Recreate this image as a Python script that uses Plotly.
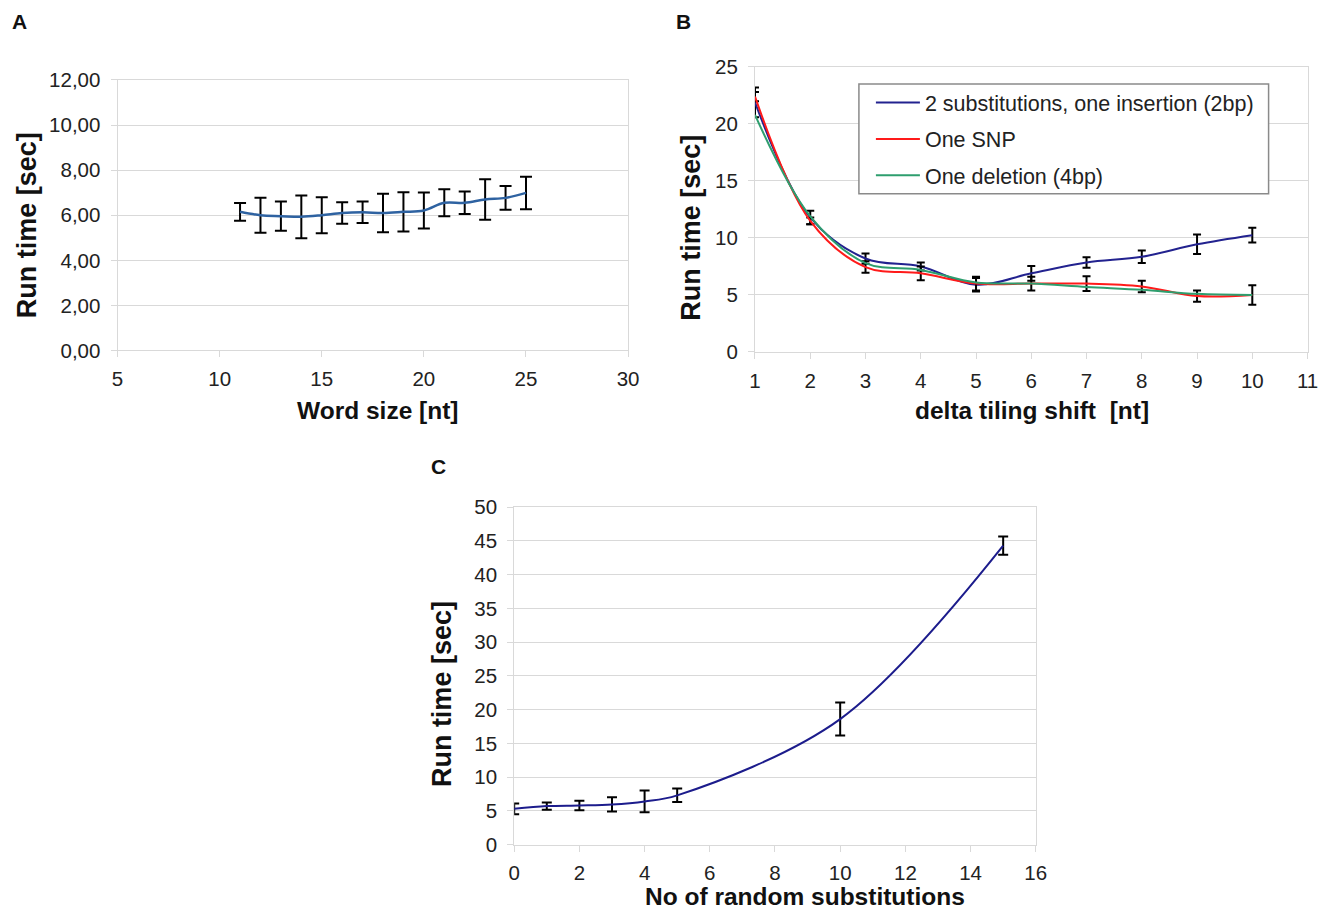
import plotly.graph_objects as go

W, H = 1329, 910

# Panel A data
word_size = [11, 12, 13, 14, 15, 16, 17, 18, 19, 20, 21, 22, 23, 24, 25]
word_time = [6.15, 6.00, 5.96, 5.93, 6.00, 6.10, 6.13, 6.10, 6.15, 6.21, 6.55, 6.55, 6.70, 6.77, 6.99]
word_err = [0.39, 0.78, 0.65, 0.95, 0.80, 0.48, 0.48, 0.85, 0.87, 0.80, 0.60, 0.50, 0.90, 0.53, 0.72]

# Panel B data
shift = [1, 2, 3, 4, 5, 6, 7, 8, 9, 10]
subs_ins = [21.9, 11.8, 8.2, 7.5, 5.9, 6.9, 7.85, 8.35, 9.45, 10.25]
subs_ins_err = [1.3, 0.6, 0.45, 0.35, 0.6, 0.65, 0.45, 0.55, 0.85, 0.65]
one_snp = [22.4, 11.5, 7.45, 6.9, 6.0, 6.0, 6.0, 5.75, 4.9, 5.0]
one_snp_err = [0.4, 0.3, 0.5, 0.6, 0.6, 0.6, 0.65, 0.5, 0.5, 0.85]
one_del = [20.8, 11.9, 7.8, 7.2, 6.1, 6.0, 5.7, 5.45, 5.1, 5.0]

# Panel C data
n_subs = [0, 1, 2, 3, 4, 5, 10, 15]
subs_time = [5.3, 5.7, 5.8, 5.95, 6.4, 7.3, 18.6, 44.3]
subs_err = [0.8, 0.55, 0.7, 1.05, 1.6, 1.0, 2.45, 1.35]

FONT = "Liberation Sans, Arial, sans-serif"
GRID = "#d9d9d9"

# calibration of picture pixels -> page pixels
def px_x(p):
    return ((p - 4.4) / 0.988) / W

def px_y(p):
    return 1 - ((p - 10.9) / 0.9765) / H

fig = go.Figure()

def eb(arr, w=5):
    return dict(type="data", array=arr, visible=True, color="black", thickness=2, width=w)

fig.add_trace(go.Scatter(x=word_size, y=word_time, mode="lines", line=dict(color="#2e62a1", width=2.5, shape="spline"),
                         error_y=eb(word_err, 6), showlegend=False, xaxis="x", yaxis="y"))

fig.add_trace(go.Scatter(x=shift, y=subs_ins, mode="lines", name="2 substitutions, one insertion (2bp)",
                         legendgroup="g1", line=dict(color="#22228f", width=2, shape="spline"),
                         error_y=eb(subs_ins_err, 4), xaxis="x2", yaxis="y2"))
fig.add_trace(go.Scatter(x=shift, y=one_snp, mode="lines", name="One SNP", legendgroup="g2",
                         line=dict(color="#ff1a1a", width=2, shape="spline"), error_y=eb(one_snp_err, 4),
                         xaxis="x2", yaxis="y2"))
fig.add_trace(go.Scatter(x=shift, y=one_del, mode="lines", name="One deletion (4bp)", legendgroup="g3",
                         line=dict(color="#2e9e6e", width=2, shape="spline"),
                         xaxis="x2", yaxis="y2"))

fig.add_trace(go.Scatter(x=n_subs, y=subs_time, mode="lines", line=dict(color="#1c1c8c", width=2, shape="spline"),
                         error_y=eb(subs_err, 5), showlegend=False, xaxis="x3", yaxis="y3"))

tickfont = dict(family=FONT, size=20.5, color="#222")

def xa(dom, rng, dtick, anchor):
    return dict(domain=dom, range=rng, dtick=dtick, tick0=rng[0], anchor=anchor, showgrid=False,
                showline=True, linecolor=GRID, linewidth=1, mirror=True, ticks="outside", ticklen=6,
                tickcolor=GRID, tickfont=tickfont, zeroline=False, fixedrange=True, ticklabelstandoff=4)

def ya(dom, rng, dtick, anchor, fmt=None):
    d = dict(domain=dom, range=rng, dtick=dtick, tick0=0, anchor=anchor, showgrid=True, gridcolor=GRID,
             gridwidth=1, showline=True, linecolor=GRID, linewidth=1, mirror=True, ticks="outside",
             ticklen=6, tickcolor=GRID, tickfont=tickfont, zeroline=False, fixedrange=True,
             ticklabelstandoff=6)
    if fmt:
        d["tickformat"] = fmt
    return d

fig.update_layout(
    autosize=True, margin=dict(l=0, r=0, t=0, b=0),
    paper_bgcolor="white", plot_bgcolor="white", separators=",.",
    xaxis=xa([px_x(116), px_x(627)], [5, 30], 5, "y"),
    yaxis=ya([px_y(350), px_y(79)], [0, 12], 2, "x", ".2f"),
    xaxis2=xa([px_x(754), px_x(1307)], [1, 11], 1, "y2"),
    yaxis2=ya([px_y(351.5), px_y(66)], [0, 25], 5, "x2"),
    xaxis3=xa([px_x(513), px_x(1035)], [0, 16], 2, "y3"),
    yaxis3=ya([px_y(845), px_y(507)], [0, 50], 5, "x3"),
    legend=dict(x=px_x(870), y=px_y(81), xanchor="left", yanchor="top", bgcolor="rgba(0,0,0,0)",
                borderwidth=0, font=dict(family=FONT, size=21.5, color="#222"),
                itemwidth=44, tracegroupgap=5.5),
    shapes=[dict(type="rect", xref="paper", yref="paper", x0=px_x(858), x1=px_x(1268),
                 y0=px_y(193), y1=px_y(83), line=dict(color="#8a8a8a", width=1.5),
                 fillcolor="white", layer="above")],
)

ann = []
def label(text, x, y, size=24, angle=0, xanchor="center"):
    ann.append(dict(text=text, x=px_x(x), y=px_y(y), xref="paper", yref="paper", showarrow=False,
                    textangle=angle, xanchor=xanchor, yanchor="middle",
                    font=dict(family=FONT, size=size, color="#111")))

label("<b>A</b>", 8, 20, 21, xanchor="left")
label("<b>B</b>", 673, 20, 21, xanchor="left")
label("<b>C</b>", 428, 466, 21, xanchor="left")
label("<b>Run time [sec]</b>", 25, 225, 27, -90)
label("<b>Word size [nt]</b>", 377, 410, 24.5)
label("<b>Run time [sec]</b>", 690, 227, 27, -90)
label("<b>delta tiling shift  [nt]</b>", 1031, 410, 24.5)
label("<b>Run time [sec]</b>", 441, 694, 27, -90)
label("<b>No of random substitutions</b>", 804, 897, 24.5)
fig.update_layout(annotations=ann)

fig.write_html(
    "out.html",
    default_width="100vw",
    default_height="100vh",
    config={"responsive": True, "displayModeBar": False},
    post_script=(
        "document.documentElement.style.margin='0';"
        "document.body.style.margin='0';document.body.style.overflow='hidden';"
        "Plotly.Plots.resize(document.getElementById('{plot_id}'));"
    ),
)
